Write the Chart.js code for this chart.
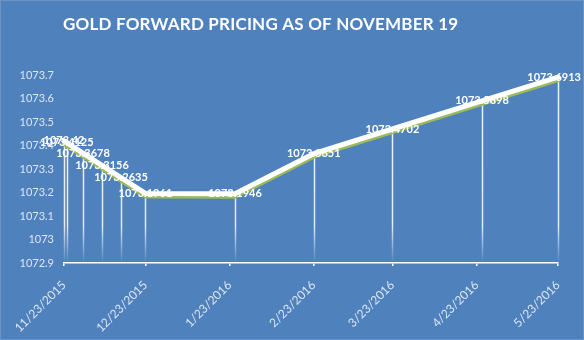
<!DOCTYPE html>
<html>
<head>
<meta charset="utf-8">
<script src="https://cdn.jsdelivr.net/npm/chart.js@4"></script>
<style>
  html, body { margin: 0; padding: 0; background: #4f81bd; }
  #wrap { width: 584px; height: 340px; }
</style>
</head>
<body>
<div id="wrap"><canvas id="c" width="584" height="340"></canvas></div>
<script>
// Gold forward curve, priced on November 19
const chartTitle = 'GOLD FORWARD PRICING AS OF NOVEMBER 19';
const forwardDates = ['11/23/2015', '11/24/2015', '11/30/2015', '12/7/2015', '12/14/2015', '12/23/2015',
                      '1/25/2016', '2/23/2016', '3/23/2016', '4/25/2016', '5/23/2016'];
const forwardPrices = [1073.42, 1073.4125, 1073.3678, 1073.3156, 1073.2635, 1073.1961,
                       1073.1946, 1073.3651, 1073.4702, 1073.5898, 1073.6913];
const dateTickLabels = ['11/23/2015', '12/23/2015', '1/23/2016', '2/23/2016', '3/23/2016', '4/23/2016', '5/23/2016'];
const priceMin = 1072.9;
const priceMax = 1073.7;
const priceStep = 0.1;

// dates become day counts from the first tick so a linear axis can place them
function dayNumber(s) {
  const [m, d, y] = s.split('/').map(Number);
  return Date.UTC(y, m - 1, d) / 86400000;
}
const day0 = dayNumber(dateTickLabels[0]);
const toDay = s => dayNumber(s) - day0;
const tickDays = dateTickLabels.map(toDay);
const points = forwardDates.map((d, i) => ({ x: toDay(d), y: forwardPrices[i] }));

const FONT = 'Lato, "Open Sans", sans-serif';
const AXIS_TEXT = '#dde6f1';

const backdrop = {
  id: 'backdrop',
  beforeDraw(chart) {
    const { ctx, width, height } = chart;
    ctx.save();
    ctx.fillStyle = '#4f81bd';
    ctx.fillRect(0, 0, width, height);
    ctx.strokeStyle = '#6a93c8';
    ctx.lineWidth = 1;
    ctx.strokeRect(0.5, 0.5, width - 1, height - 1);
    // title
    ctx.fillStyle = '#ffffff';
    ctx.font = 'bold 17px ' + FONT;
    ctx.letterSpacing = '0.2px';
    ctx.textAlign = 'left';
    ctx.textBaseline = 'alphabetic';
    ctx.fillText(chartTitle, 63, 29.5);
    ctx.restore();
  }
};

// vertical drop lines from each point down to the date axis
const dropLines = {
  id: 'dropLines',
  beforeDatasetsDraw(chart) {
    const { ctx, chartArea } = chart;
    const meta = chart.getDatasetMeta(0);
    const g = ctx.createLinearGradient(0, chartArea.top, 0, chartArea.bottom);
    g.addColorStop(0, 'rgba(255,255,255,0.9)');
    g.addColorStop(0.8, 'rgba(255,255,255,0.85)');
    g.addColorStop(1, 'rgba(255,255,255,0)');
    ctx.save();
    ctx.strokeStyle = g;
    ctx.lineWidth = 1.5;
    meta.data.forEach(pt => {
      const x = Math.round(pt.x) + 0.5;
      ctx.beginPath();
      ctx.moveTo(x, pt.y);
      ctx.lineTo(x, chartArea.bottom);
      ctx.stroke();
    });
    ctx.restore();
  }
};

// green offset shadow under the white curve
const lineShadow = {
  id: 'lineShadow',
  beforeDatasetDraw(chart, args) {
    if (args.index !== 0) return;
    const ctx = chart.ctx;
    ctx.save();
    ctx.shadowColor = '#9bbb59';
    ctx.shadowBlur = 0;
    ctx.shadowOffsetX = 0;
    ctx.shadowOffsetY = 2.5;
  },
  afterDatasetDraw(chart, args) {
    if (args.index !== 0) return;
    chart.ctx.restore();
  }
};

// value labels centred on each point
const valueLabels = {
  id: 'valueLabels',
  afterDatasetsDraw(chart) {
    const { ctx, width } = chart;
    const meta = chart.getDatasetMeta(0);
    ctx.save();
    ctx.font = 'bold 11px ' + FONT;
    ctx.fillStyle = '#ffffff';
    ctx.textBaseline = 'middle';
    ctx.textAlign = 'left';
    meta.data.forEach((pt, i) => {
      const txt = String(forwardPrices[i]);
      const w = ctx.measureText(txt).width;
      let left = pt.x - w / 2;
      if (left + w > width - 3) left = width - 3 - w;
      ctx.fillText(txt, left, pt.y);
    });
    ctx.restore();
  }
};

new Chart(document.getElementById('c'), {
  type: 'line',
  data: {
    datasets: [{
      data: points,
      borderColor: '#ffffff',
      borderWidth: 5,
      pointRadius: 0,
      pointHoverRadius: 0,
      tension: 0,
      borderJoinStyle: 'round',
      borderCapStyle: 'round',
      clip: false
    }]
  },
  options: {
    responsive: false,
    animation: false,
    devicePixelRatio: 1,
    events: [],
    layout: { padding: { top: 75, right: 26, left: 0, bottom: 0 } },
    plugins: { legend: { display: false }, tooltip: { enabled: false }, title: { display: false } },
    scales: {
      x: {
        type: 'linear',
        min: tickDays[0],
        max: tickDays[tickDays.length - 1],
        afterBuildTicks(scale) { scale.ticks = tickDays.map(v => ({ value: v })); },
        afterFit(scale) { scale.height = 77; },
        ticks: {
          autoSkip: false,
          minRotation: 45,
          maxRotation: 45,
          padding: 12,
          color: AXIS_TEXT,
          font: { family: FONT, size: 12 },
          callback: (v, i) => dateTickLabels[i]
        },
        grid: { drawOnChartArea: false, drawTicks: true, tickLength: 3, color: '#ffffff', lineWidth: 1.5 },
        border: { display: true, color: '#ffffff', width: 1.5 }
      },
      y: {
        min: priceMin,
        max: priceMax,
        afterFit(scale) { scale.width = 64; },
        ticks: {
          stepSize: priceStep,
          padding: 10,
          color: AXIS_TEXT,
          font: { family: FONT, size: 11 },
          callback: v => String(Math.round(v * 10) / 10)
        },
        grid: { display: false, drawTicks: false },
        border: { display: false }
      }
    }
  },
  plugins: [backdrop, dropLines, lineShadow, valueLabels]
});
</script>
</body>
</html>
